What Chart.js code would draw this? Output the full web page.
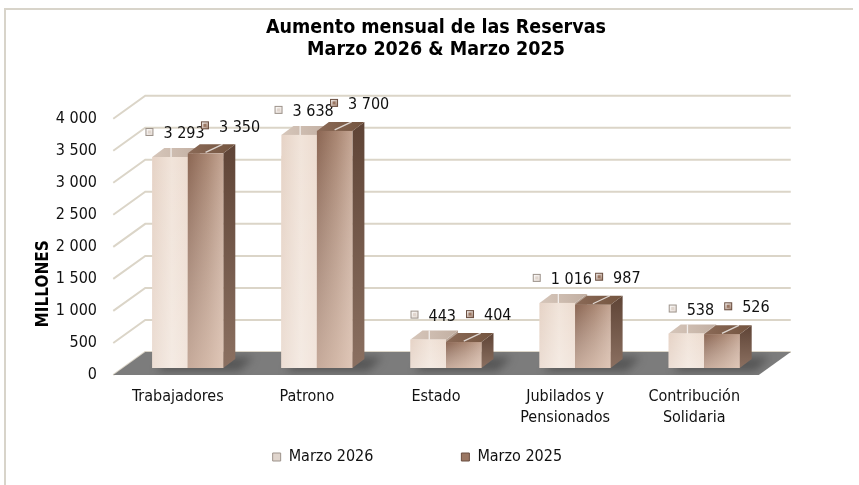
<!DOCTYPE html>
<html>
<head>
<meta charset="utf-8">
<script src="https://cdn.jsdelivr.net/npm/chart.js@4.4.1/dist/chart.umd.min.js"></script>
<style>
html,body{margin:0;padding:0;background:#ffffff;}
#wrap{width:859px;height:485px;position:relative;}
</style>
</head>
<body>
<div id="wrap"><canvas id="c" width="859" height="485"></canvas></div>
<script>
// ---------------- data ----------------
const categories = ['Trabajadores', 'Patrono', 'Estado', ['Jubilados y', 'Pensionados'], ['Contribución', 'Solidaria']];
const seriesNames = ['Marzo 2026', 'Marzo 2025'];
const marzo2026 = [3293, 3638, 443, 1016, 538];
const marzo2025 = [3350, 3700, 404, 987, 526];
const yTickLabels = ['0', '500', '1 000', '1 500', '2 000', '2 500', '3 000', '3 500', '4 000'];
const titleLines = ['Aumento mensual de las Reservas', 'Marzo 2026 & Marzo 2025'];
const yAxisTitle = 'MILLONES';

// ---------------- styling ----------------
const FONT = '"DejaVu Sans Condensed", "DejaVu Sans", sans-serif';
const TEXT = '#111111';
const fmt = v => String(v).replace(/\B(?=(\d{3})+(?!\d))/g, ' ');

const DEPTH = {x: 12, y: -9};     // bar depth (projection)
const FRONT = {x: -10, y: 7};     // front plane offset from bar plane
const BACK = {x: 22, y: -16};     // back wall offset from bar plane

const looks = [
  { front: ['#e6d3c6', '#f1e4da', '#eddcd0'], shade: 'rgba(255,255,255,0.25)',
    top: ['#c2afa2', '#d6c6ba'], side: ['#b19c8e', '#cdbbaf'],
    icon: '#e0d5cd', iconEdge: '#9d938b', label: {dx: 5, dy: -24}, leader: 'v' },
  { front: ['#8b6653', '#a98672', '#c4a593'], shade: 'rgba(245,225,212,0.55)',
    top: ['#73543f', '#8b6a57'], side: ['#5f4436', '#8b7061'],
    icon: '#9a7662', iconEdge: '#6a4e40', label: {dx: 25, dy: -27}, leader: 'd' }
];

function poly(ctx, pts, fill) {
  ctx.beginPath();
  ctx.moveTo(pts[0][0], pts[0][1]);
  for (let i = 1; i < pts.length; i++) ctx.lineTo(pts[i][0], pts[i][1]);
  ctx.closePath();
  ctx.fillStyle = fill;
  ctx.fill();
}

function drawIcon(ctx, x, y, s, lk) {
  ctx.fillStyle = lk.iconEdge;
  ctx.fillRect(x, y, s, s);
  const g = ctx.createLinearGradient(x, y, x + s, y + s);
  g.addColorStop(0, '#ffffff');
  g.addColorStop(1, lk.icon);
  ctx.fillStyle = g;
  ctx.fillRect(x + 1, y + 1, s - 2, s - 2);
  ctx.fillStyle = lk.icon;
  ctx.fillRect(x + 2.5, y + 2.5, s - 5, s - 5);
}

function drawBar3D(ctx, bar, lk) {
  const {x, y, base, width} = bar.getProps(['x', 'y', 'base', 'width'], true);
  const l = x - width / 2, r = x + width / 2;
  const dx = DEPTH.x, dy = DEPTH.y;
  let g = ctx.createLinearGradient(0, y + dy, 0, base);
  g.addColorStop(0, lk.side[0]); g.addColorStop(1, lk.side[1]);
  poly(ctx, [[r, y], [r + dx, y + dy], [r + dx, base + dy], [r, base]], g);
  g = ctx.createLinearGradient(l, 0, r + dx, 0);
  g.addColorStop(0, lk.top[1]); g.addColorStop(1, lk.top[0]);
  poly(ctx, [[l, y], [r, y], [r + dx, y + dy], [l + dx, y + dy]], g);
  g = ctx.createLinearGradient(l, 0, r, 0);
  g.addColorStop(0, lk.front[0]); g.addColorStop(0.55, lk.front[1]); g.addColorStop(1, lk.front[2]);
  ctx.fillStyle = g;
  ctx.fillRect(l, y, width, base - y);
  g = ctx.createLinearGradient(0, y, 0, base);
  g.addColorStop(0, 'rgba(255,255,255,0)');
  g.addColorStop(1, lk.shade);
  ctx.fillStyle = g;
  ctx.fillRect(l, y, width, base - y);
  // leader line on top face
  ctx.strokeStyle = 'rgba(255,255,255,0.75)';
  ctx.lineWidth = 1.3;
  ctx.beginPath();
  if (lk.leader === 'v') { ctx.moveTo(x + 1, y); ctx.lineTo(x + 1, y + dy); }
  else { ctx.moveTo(x, y - 1); ctx.lineTo(x + 17, y + dy); }
  ctx.stroke();
}

const decor = {
  id: 'decor',
  afterLayout(chart, args, o) {
    const t = chart.titleBlock;
    t.left += o.titleShift; t.right += o.titleShift;
    const lg = chart.legend;
    lg.left += o.legendShiftX; lg.right += o.legendShiftX;
    lg.top += o.legendShiftY;
    const ys = chart.scales.y;
    ys.top += o.yTitleShift; ys.bottom += o.yTitleShift;
  },
  beforeDraw(chart) {
    const ctx = chart.ctx;
    ctx.save();
    ctx.strokeStyle = '#d8d4ca';
    ctx.lineWidth = 2;
    ctx.beginPath();
    ctx.moveTo(5, chart.height + 5);
    ctx.lineTo(5, 9);
    ctx.lineTo(853, 9);
    ctx.stroke();
    ctx.restore();
  },
  beforeDatasetsDraw(chart) {
    const ctx = chart.ctx, ca = chart.chartArea, ys = chart.scales.y;
    ctx.save();
    // grid on side + back wall
    ctx.strokeStyle = '#dbd5c8';
    ctx.lineWidth = 2;
    ys.ticks.forEach(t => {
      const py = ys.getPixelForValue(t.value);
      ctx.beginPath();
      ctx.moveTo(ca.left + FRONT.x, py + FRONT.y);
      ctx.lineTo(ca.left + BACK.x, py + BACK.y);
      ctx.lineTo(ca.right + BACK.x, py + BACK.y);
      ctx.stroke();
    });
    // floor
    const y0 = ys.getPixelForValue(0);
    const floor = [[ca.left + FRONT.x, y0 + FRONT.y], [ca.right + FRONT.x, y0 + FRONT.y],
                   [ca.right + BACK.x, y0 + BACK.y], [ca.left + BACK.x, y0 + BACK.y]];
    poly(ctx, floor, '#7c7c7c');
    // soft shadows on floor
    ctx.save();
    ctx.beginPath();
    floor.forEach((p, i) => i ? ctx.lineTo(p[0], p[1]) : ctx.moveTo(p[0], p[1]));
    ctx.closePath();
    ctx.clip();
    ctx.filter = 'blur(4px)';
    const m0 = chart.getDatasetMeta(0), m1 = chart.getDatasetMeta(1);
    m0.data.forEach((b0, i) => {
      const b1 = m1.data[i];
      const p0 = b0.getProps(['x', 'width', 'base'], true), p1 = b1.getProps(['x', 'width', 'base'], true);
      const l = p0.x - p0.width / 2, r = p1.x + p1.width / 2, base = p0.base;
      poly(ctx, [[l + 4, base + 3], [r + 16, base + 3], [r + DEPTH.x + 18, base + DEPTH.y - 2], [l + DEPTH.x + 4, base + DEPTH.y - 2]], 'rgba(40,40,40,0.45)');
    });
    ctx.restore();
    ctx.restore();
  },
  afterDatasetsDraw(chart) {
    const ctx = chart.ctx;
    const metas = [chart.getDatasetMeta(0), chart.getDatasetMeta(1)];
    ctx.save();
    categories.forEach((c, i) => {
      metas.forEach((m, d) => drawBar3D(ctx, m.data[i], looks[d]));
    });
    // data labels
    ctx.font = '16px ' + FONT;
    ctx.textBaseline = 'middle';
    ctx.textAlign = 'left';
    metas.forEach((m, d) => {
      const vals = chart.data.datasets[d].data;
      const lk = looks[d];
      m.data.forEach((bar, i) => {
        const {x, y} = bar.getProps(['x', 'y'], true);
        const text = fmt(vals[i]);
        const tw = ctx.measureText(text).width;
        const s = 8, gap = 10;
        const total = s + gap + tw;
        const cx = x + lk.label.dx, cy = y + lk.label.dy;
        const il = cx - total / 2;
        drawIcon(ctx, il, cy - s / 2 - 1, s, lk);
        ctx.fillStyle = TEXT;
        ctx.fillText(text, il + s + gap, cy + 1);
      });
    });
    ctx.restore();
  }
};

new Chart(document.getElementById('c'), {
  type: 'bar',
  data: {
    labels: categories,
    datasets: [
      { label: seriesNames[0], data: marzo2026, backgroundColor: '#ecdcd0', borderWidth: 0,
        categoryPercentage: 0.55, barPercentage: 1 },
      { label: seriesNames[1], data: marzo2025, backgroundColor: '#a8856f', borderWidth: 0,
        categoryPercentage: 0.55, barPercentage: 1 }
    ]
  },
  plugins: [decor],
  options: {
    responsive: false,
    animation: false,
    devicePixelRatio: 1,
    layout: { padding: { left: 30, right: 90.25, top: 10, bottom: 5 } },
    plugins: {
      decor: { titleShift: 36.6, legendShiftX: 18, legendShiftY: -79, yTitleShift: 44 },
      title: {
        display: true, text: titleLines, color: '#000000',
        font: { family: FONT, size: 19.5, weight: 'bold', lineHeight: '22px' },
        padding: { top: 6.5, bottom: 51.2 }
      },
      legend: {
        position: 'bottom', maxHeight: 40,
        labels: {
          color: TEXT, boxWidth: 8, boxHeight: 8, padding: 88,
          font: { family: FONT, size: 16 },
          generateLabels(chart) {
            const items = Chart.defaults.plugins.legend.labels.generateLabels(chart);
            items.forEach((it, i) => { it.fillStyle = looks[i].icon; it.strokeStyle = looks[i].iconEdge; it.lineWidth = 1; });
            return items;
          }
        }
      },
      tooltip: { enabled: false }
    },
    scales: {
      x: {
        offset: true,
        grid: { display: false, drawTicks: false },
        border: { display: false },
        ticks: { color: TEXT, font: { family: FONT, size: 16, lineHeight: 1.3 }, padding: 18.6,
                 labelOffset: -10, maxRotation: 0, autoSkip: false },
        afterFit(s) { s.height = 72; }
      },
      y: {
        min: 0, max: 4000,
        grid: { display: false, drawTicks: false },
        border: { display: false },
        ticks: { stepSize: 500, color: TEXT, font: { family: FONT, size: 16 }, padding: 26.25,
                 labelOffset: 7, callback: (v, i) => yTickLabels[i] },
        title: { display: true, text: yAxisTitle, color: '#000000',
                 font: { family: FONT, size: 17, weight: 'bold' }, padding: { top: 3, bottom: 0 } },
        afterFit(s) { s.width = 93.25; }
      }
    }
  }
});
</script>
</body>
</html>
